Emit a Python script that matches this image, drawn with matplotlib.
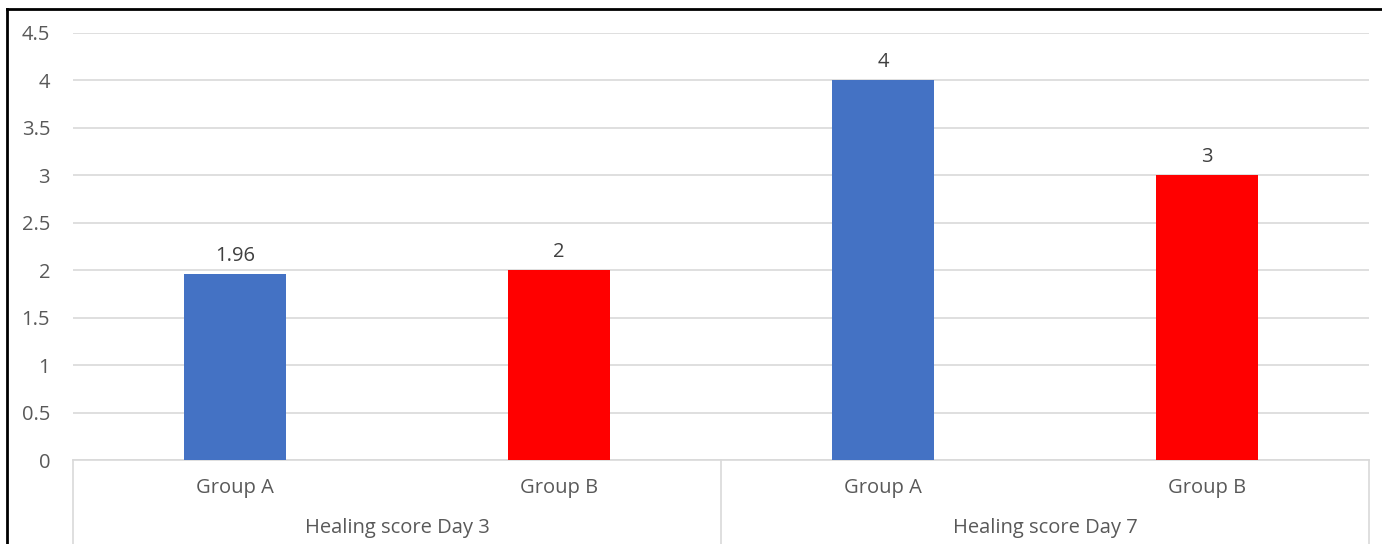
import matplotlib
matplotlib.use("Agg")
import matplotlib.pyplot as plt
from matplotlib.lines import Line2D

groups = ["Group A", "Group B", "Group A", "Group B"]
days = ["Healing score Day 3", "Healing score Day 7"]
values = [1.96, 2, 4, 3]
labels = ["1.96", "2", "4", "3"]
colors = ["#4472C4", "#FF0000", "#4472C4", "#FF0000"]
yticks = [0, 0.5, 1, 1.5, 2, 2.5, 3, 3.5, 4, 4.5]
ytick_labels = ["0", "0.5", "1", "1.5", "2", "2.5", "3", "3.5", "4", "4.5"]

plt.rcParams['font.family'] = ['Open Sans', 'DejaVu Sans']
W, H = 1382, 544
fig = plt.figure(figsize=(W / 100, H / 100), dpi=100)
ax = fig.add_axes([73 / W, (H - 460) / H, 1296 / W, 427 / H])

txt = "#595959"
grid = "#D9D9D9"
fs = 14.5
x = list(range(len(values)))
ax.bar(x, values, width=0.315, color=colors, zorder=3)
for xi, v, lab in zip(x, values, labels):
    ax.annotate(lab, (xi, v), xytext=(0, 6), textcoords="offset points",
                ha="center", va="bottom", fontsize=fs, color="#404040")

ax.set_xlim(-0.5, len(values) - 0.5)
ax.set_ylim(0, 4.5)
ax.set_yticks(yticks)
ax.set_yticklabels(ytick_labels)
ax.tick_params(axis="y", length=0, pad=16.5, labelsize=fs, labelcolor=txt)
ax.set_xticks([])
ax.grid(axis="y", color=grid, linewidth=1.2, zorder=0)
for s in ["top", "right", "left"]:
    ax.spines[s].set_visible(False)
ax.spines["bottom"].set_color(grid)
ax.spines["bottom"].set_linewidth(1.2)

# multi-level category axis
trans = ax.get_xaxis_transform()
for xi, g in zip(x, groups):
    ax.text(xi, -28 / 427, g, transform=trans, ha="center", va="center",
            fontsize=fs, color=txt, clip_on=False)
for i, d in enumerate(days):
    ax.text(2 * i + 0.5, -68 / 427, d, transform=trans, ha="center", va="center",
            fontsize=fs, color=txt, clip_on=False)
for xb in [-0.5, 1.5, 3.5]:
    ax.add_line(Line2D([xb, xb], [0, -90 / 427], transform=trans, color=grid,
                       linewidth=1.2, clip_on=False))

# outer frame (left and top visible)
fig.add_artist(Line2D([7 / W, 7 / W], [0, 1 - 9 / H], transform=fig.transFigure,
                      color="black", linewidth=2))
fig.add_artist(Line2D([7 / W, 1], [1 - 9 / H, 1 - 9 / H], transform=fig.transFigure,
                      color="black", linewidth=2))

fig.savefig("out.png", dpi=100, facecolor="white")
